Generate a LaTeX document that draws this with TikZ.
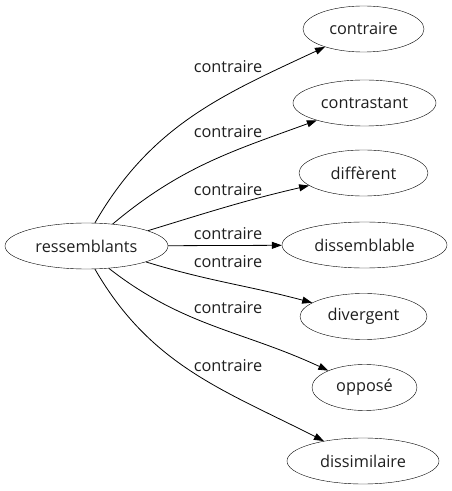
\documentclass[tikz,border=0pt]{standalone}
\usepackage{fontspec}
\setmainfont{Open Sans}
\usetikzlibrary{shapes.geometric,arrows.meta}
\tikzset{
  word/.style={ellipse, draw, inner sep=0pt, minimum height=46pt, text=black!88, font=\fontsize{16.3}{19}\selectfont},
  rel/.style={text=black!88, inner sep=0pt, font=\fontsize{16.3}{19}\selectfont},
  arc/.style={line width=0.8pt, -{Triangle[length=10pt,width=7pt]}}
}
\begin{document}
\begin{tikzpicture}[x=1pt,y=1pt]
\useasboundingbox (0,0) rectangle (451,491);
% words
\node[word, minimum width=163pt] (src) at (86.5,245) {ressemblants};
\node[word, minimum width=121pt] (w1) at (363.5,462) {contraire};
\node[word, minimum width=143pt] (w2) at (364.5,388) {contrastant};
\node[word, minimum width=129pt] (w3) at (363.5,318) {diffèrent};
\node[word, minimum width=165pt] (w4) at (364.5,246) {dissemblable};
\node[word, minimum width=127pt] (w5) at (363.5,174.5) {divergent};
\node[word, minimum width=105pt] (w6) at (364.5,103.5) {opposé};
\node[word, minimum width=152pt] (w7) at (363,30) {dissimilaire};
% relation labels
\node[rel] (r1) at (228,424) {contraire};
\node[rel] (r2) at (228,359.5) {contraire};
\node[rel] (r3) at (228,301.5) {contraire};
\node[rel] (r4) at (228,257) {contraire};
\node[rel] (r5) at (228,229.5) {contraire};
\node[rel] (r6) at (228,183.5) {contraire};
\node[rel] (r7) at (228,125.5) {contraire};
% edges
\draw[arc] (src.70) to[out=60,in=205] (w1);
\draw[arc] (src.40) to[out=40,in=200] (w2);
\draw[arc] (src.14) to[out=17,in=193] (w3);
\draw[arc] (src) -- (w4);
\draw[arc] (src.-15) to[out=-17,in=165] (w5);
\draw[arc] (src.-45) to[out=-38,in=155] (w6);
\draw[arc] (src.-70) to[out=-60,in=153] (w7);
\end{tikzpicture}
\end{document}
